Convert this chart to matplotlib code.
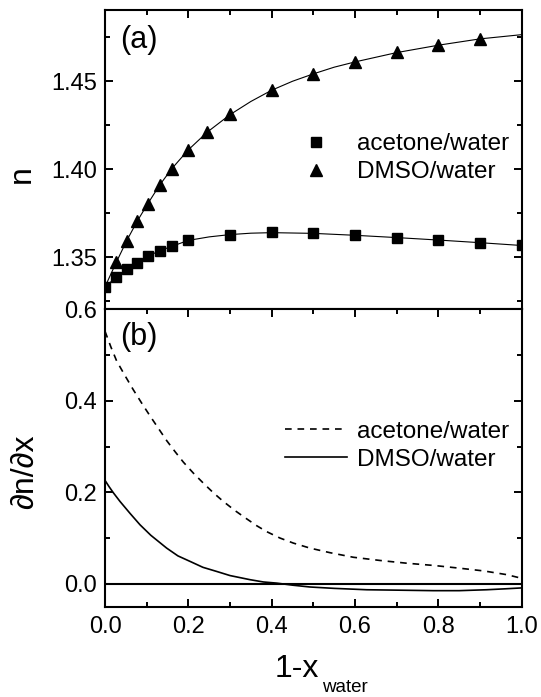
import numpy as np
import matplotlib
matplotlib.use("Agg")
import matplotlib.pyplot as plt
from matplotlib.ticker import MultipleLocator, FormatStrFormatter

plt.rcParams['font.family'] = ['Liberation Sans', 'DejaVu Sans']

# refractive index vs solvent fraction (1 - x_water)
x_acetone = [0.0, 0.027, 0.052, 0.077, 0.102, 0.131, 0.16, 0.2, 0.3, 0.4, 0.5, 0.6, 0.7, 0.8, 0.9, 1.0]
n_acetone = [1.3331, 1.3385, 1.3430, 1.3466, 1.3504, 1.3536, 1.3561, 1.3597, 1.3627, 1.3640,
             1.3635, 1.3623, 1.3610, 1.3598, 1.3581, 1.3568]

x_dmso = [0.027, 0.052, 0.077, 0.102, 0.131, 0.16, 0.2, 0.245, 0.3, 0.4, 0.5, 0.6, 0.7, 0.8, 0.9]
n_dmso = [1.3470, 1.3593, 1.3703, 1.3801, 1.3909, 1.4002, 1.4110, 1.4210, 1.4314, 1.4449,
          1.4544, 1.4612, 1.4665, 1.4705, 1.4743]

# fitted curves
fit_x_acetone = [0.0, 0.027, 0.052, 0.077, 0.102, 0.131, 0.16, 0.2, 0.25, 0.3, 0.35, 0.4, 0.5,
                 0.6, 0.7, 0.8, 0.9, 1.0]
fit_n_acetone = [1.3331, 1.3385, 1.3430, 1.3466, 1.3504, 1.3536, 1.3561, 1.3595, 1.3615, 1.3628,
                 1.3636, 1.3639, 1.3635, 1.3624, 1.3611, 1.3597, 1.3582, 1.3566]
fit_x_dmso = [0.0, 0.027, 0.052, 0.077, 0.102, 0.131, 0.16, 0.2, 0.245, 0.3, 0.35, 0.4, 0.45,
              0.5, 0.55, 0.6, 0.7, 0.8, 0.9, 1.0]
fit_n_dmso = [1.3331, 1.3470, 1.3593, 1.3703, 1.3801, 1.3909, 1.4002, 1.4110, 1.4210, 1.4310,
              1.4385, 1.4449, 1.4500, 1.4542, 1.4580, 1.4610, 1.4663, 1.4705, 1.4741, 1.4765]

# derivative dn/dx
dx_a = [0.0, 0.014, 0.028, 0.048, 0.068, 0.088, 0.108, 0.128, 0.148, 0.168, 0.188, 0.212,
        0.236, 0.26, 0.284, 0.312, 0.34, 0.364, 0.388, 0.42, 0.452, 0.492, 0.54, 0.596,
        0.66, 0.724, 0.79, 0.852, 0.91, 0.964, 1.0]
dn_a = [0.552, 0.518, 0.487, 0.455, 0.424, 0.395, 0.367, 0.340, 0.313, 0.289, 0.266, 0.242,
        0.220, 0.199, 0.180, 0.160, 0.142, 0.127, 0.114, 0.100, 0.089, 0.078, 0.068, 0.058,
        0.051, 0.045, 0.040, 0.034, 0.028, 0.020, 0.012]
dx_d = [0.0, 0.01, 0.02, 0.036, 0.06, 0.084, 0.11, 0.148, 0.175, 0.204, 0.235, 0.268, 0.30,
        0.348, 0.38, 0.412, 0.45, 0.492, 0.55, 0.628, 0.71, 0.788, 0.85, 0.916, 0.96, 1.0]
dn_d = [0.226, 0.212, 0.199, 0.180, 0.154, 0.129, 0.106, 0.078, 0.061, 0.049, 0.036, 0.027,
        0.018, 0.009, 0.004, 0.0015, -0.003, -0.007, -0.010, -0.013, -0.014, -0.015, -0.015,
        -0.013, -0.011, -0.009]

fig = plt.figure(figsize=(5.41, 6.97), dpi=100)
ax1 = fig.add_axes([0.1941, 0.5562, 0.7702, 0.4294])
ax2 = fig.add_axes([0.1941, 0.1296, 0.7702, 0.4266])

ax1.plot(fit_x_acetone, fit_n_acetone, color='black', lw=0.8, zorder=2)
ax1.plot(fit_x_dmso, fit_n_dmso, color='black', lw=0.8, zorder=2)
ax1.plot(x_acetone, n_acetone, 's', color='black', ms=7.2, label='acetone/water', zorder=3)
ax1.plot(x_dmso, n_dmso, '^', color='black', ms=8, label='DMSO/water', zorder=3)

ax2.axhline(0, color='black', lw=1.5)
ax2.plot(dx_a, dn_a, '--', color='black', lw=1.2, dashes=(4, 3.5), label='acetone/water')
ax2.plot(dx_d, dn_d, '-', color='black', lw=1.2, label='DMSO/water')

ax1.set_xlim(0, 1)
ax1.set_ylim(1.3203, 1.4905)
ax2.set_xlim(0, 1)
ax2.set_ylim(-0.05, 0.6)

for ax in (ax1, ax2):
    ax.xaxis.set_major_locator(MultipleLocator(0.2))
    ax.xaxis.set_minor_locator(MultipleLocator(0.1))
    ax.tick_params(which='both', direction='in', width=1.4, labelsize=17,
                   top=True, right=True)
    ax.tick_params(which='major', length=6)
    ax.tick_params(which='minor', length=3.5)
    ax.tick_params(axis='y', pad=6)
    ax.tick_params(axis='x', pad=7)
    for s in ax.spines.values():
        s.set_linewidth(1.5)

ax1.tick_params(which='both', bottom=False, labelbottom=False)
ax1.yaxis.set_major_locator(MultipleLocator(0.05))
ax1.yaxis.set_minor_locator(MultipleLocator(0.025))
ax1.yaxis.set_major_formatter(FormatStrFormatter('%.2f'))
ax2.yaxis.set_major_locator(MultipleLocator(0.2))
ax2.yaxis.set_minor_locator(MultipleLocator(0.1))
ax2.yaxis.set_major_formatter(FormatStrFormatter('%.1f'))
ax2.xaxis.set_major_formatter(FormatStrFormatter('%.1f'))

ax1.set_ylabel('n', fontsize=23)
ax1.yaxis.set_label_coords(-0.163, 0.452)
ax2.set_ylabel('\u2202n/\u2202x', fontsize=23)
ax2.yaxis.set_label_coords(-0.156, 0.453)

# x label with a smaller subscript
fig.text(0.507, 0.0287, '1-x', fontsize=23, va='baseline', ha='left')
fig.text(0.5952, 0.0072, 'water', fontsize=13.5, va='baseline', ha='left')

ax1.text(0.036, 0.90, '(a)', transform=ax1.transAxes, fontsize=22, va='center')
ax2.text(0.036, 0.907, '(b)', transform=ax2.transAxes, fontsize=22, va='center')

leg_kw = dict(loc='upper left', frameon=False, fontsize=17.5, handlelength=2.54,
              handletextpad=0.41, labelspacing=0.245, borderpad=0, borderaxespad=0)
ax1.legend(bbox_to_anchor=(0.432, 0.589), numpoints=1, **leg_kw)
ax2.legend(bbox_to_anchor=(0.432, 0.626), **leg_kw)

fig.savefig('out.png', dpi=100)
